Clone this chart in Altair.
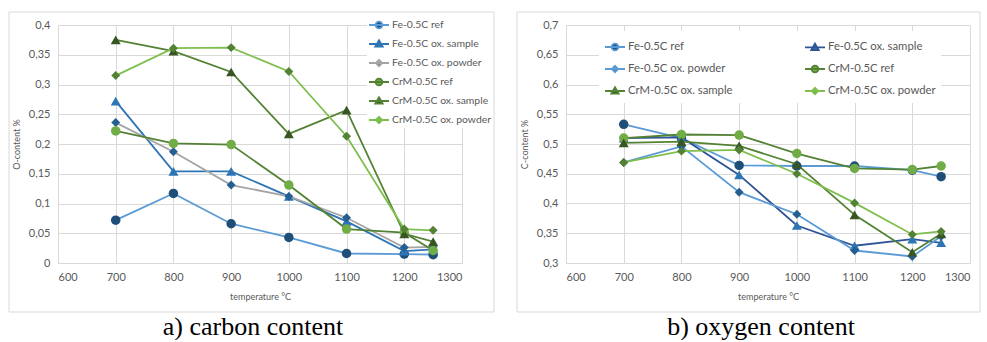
import altair as alt
import pandas as pd

temps = [700, 800, 900, 1000, 1100, 1200, 1250]

series_names = ["Fe-0.5C ref", "Fe-0.5C ox. sample", "Fe-0.5C ox. powder",
                "CrM-0.5C ref", "CrM-0.5C ox. sample", "CrM-0.5C ox. powder"]
marker_types = ["circle", "triangle-up", "diamond", "circle", "triangle-up", "diamond"]
marker_sizes = [90, 100, 80, 90, 100, 80]
marker_colors = ["#1f4e79", "#2e75b6", "#255e91", "#70ad47", "#375623", "#548235"]
line_colors_o = ["#5b9bd5", "#2e75b6", "#a5a5a5", "#548235", "#548235", "#7fbf4d"]
line_colors_c = ["#5b9bd5", "#2f5597", "#5b9bd5", "#548235", "#548235", "#7fbf4d"]

# a) O-content %
fe_ref_o = [0.072, 0.117, 0.066, 0.043, 0.016, 0.015, 0.014]
fe_sample_o = [0.272, 0.154, 0.154, 0.112, 0.070, 0.020, 0.023]
fe_powder_o = [0.236, 0.187, 0.131, 0.112, 0.076, 0.026, 0.027]
crm_ref_o = [0.222, 0.201, 0.199, 0.131, 0.057, 0.051, 0.021]
crm_sample_o = [0.375, 0.356, 0.321, 0.217, 0.257, 0.049, 0.036]
crm_powder_o = [0.315, 0.361, 0.362, 0.322, 0.213, 0.057, 0.055]

# b) C-content %
fe_ref_c = [0.533, 0.510, 0.464, 0.463, 0.463, 0.456, 0.445]
fe_sample_c = [0.510, 0.511, 0.448, 0.363, 0.329, 0.340, 0.334]
fe_powder_c = [0.469, 0.496, 0.419, 0.382, 0.321, 0.311, 0.345]
crm_ref_c = [0.510, 0.516, 0.515, 0.484, 0.459, 0.457, 0.463]
crm_sample_c = [0.502, 0.504, 0.497, 0.466, 0.381, 0.318, 0.349]
crm_powder_c = [0.469, 0.488, 0.490, 0.450, 0.401, 0.348, 0.353]

x_ticks = [600, 700, 800, 900, 1000, 1100, 1200, 1300]
y_ticks_o = [0, 0.05, 0.1, 0.15, 0.2, 0.25, 0.3, 0.35, 0.4]
y_ticks_c = [0.3, 0.35, 0.4, 0.45, 0.5, 0.55, 0.6, 0.65, 0.7]

legend_paths = {
    "circle": "M-1,0H1M-0.34,0A0.34,0.34,0,1,0,0.34,0A0.34,0.34,0,1,0,-0.34,0Z",
    "triangle-up": "M-1,0H1M0,-0.38L0.37,0.26L-0.37,0.26Z",
    "diamond": "M-1,0H1M0,-0.32L0.32,0L0,0.32L-0.32,0Z",
}

GRID = "#d9d9d9"
TXT = "#595959"
FONT = "Lato"


def long_df(cols):
    rows = []
    for name, vals in zip(series_names, cols):
        for t, v in zip(temps, vals):
            rows.append({"series": name, "temp": t, "value": v})
    return pd.DataFrame(rows)


def panel(df, line_colors, ydomain, yticks, ytitle, legend_kw, frame_right, caption, cap_dx):
    x = alt.X("temp:Q", scale=alt.Scale(domain=[600, 1300], nice=False, zero=False),
              axis=alt.Axis(values=x_ticks, title="temperature °C", format="d"))
    y = alt.Y("value:Q", scale=alt.Scale(domain=ydomain, nice=False, zero=False),
              axis=alt.Axis(values=yticks, title=ytitle, titlePadding=7,
                            labelExpr="replace(format(datum.value, '.2~f'), '.', ',')",
                            domain=False))
    stroke_scale = alt.Scale(domain=series_names, range=line_colors)
    fill_scale = alt.Scale(domain=series_names, range=marker_colors)

    frame = alt.Chart(alt.Data(values=[{"f": 1}])).mark_rect(
        fillOpacity=0, stroke=GRID, strokeWidth=1
    ).encode(x=alt.value(-49), x2=alt.value(frame_right), y=alt.value(-13), y2=alt.value(287))

    base = alt.Chart(df)
    leg = alt.Legend(**legend_kw)
    legend_layer = base.transform_filter("false").mark_point(
        filled=True, opacity=1, strokeWidth=1.8
    ).encode(
        x=x, y=y,
        stroke=alt.Stroke("series:N", scale=stroke_scale, legend=leg),
        fill=alt.Fill("series:N", scale=fill_scale, legend=leg),
        shape=alt.Shape("series:N", scale=alt.Scale(domain=series_names,
                                                      range=[legend_paths[m] for m in marker_types]),
                        legend=leg),
    )

    layers = [frame, legend_layer]
    for name, shp, sz in zip(series_names, marker_types, marker_sizes):
        sub = base.transform_filter(alt.datum.series == name)
        layers.append(sub.mark_line(strokeWidth=1.8).encode(
            x=x, y=y, color=alt.Color("series:N", scale=stroke_scale, legend=None)))
        layers.append(sub.mark_point(shape=shp, filled=True, size=sz, opacity=1, strokeWidth=0).encode(
            x=x, y=y, fill=alt.Fill("series:N", scale=fill_scale)))

    return alt.layer(*layers).properties(
        width=404, height=238,
        title=alt.Title(caption, orient="bottom", anchor="middle", frame="group",
                        font="Liberation Serif", fontSize=26, fontWeight="normal",
                        color="black", offset=1, dx=cap_dx),
    )


common_leg = dict(orient="none", title=None, fillColor="white", symbolSize=400,
                  symbolStrokeWidth=1.8, labelFont=FONT, labelColor=TXT, labelOffset=2)

left = panel(long_df([fe_ref_o, fe_sample_o, fe_powder_o, crm_ref_o, crm_sample_o, crm_powder_o]),
             line_colors_o, [0, 0.4], y_ticks_o, "O-content %",
             dict(common_leg, legendX=309, legendY=-12, padding=1, rowPadding=1,
                  labelFontSize=10.4, direction="vertical"),
             436, "a) carbon content", -7)

right = panel(long_df([fe_ref_c, fe_sample_c, fe_powder_c, crm_ref_c, crm_sample_c, crm_powder_c]),
              line_colors_c, [0.3, 0.7], y_ticks_c, "C-content %",
              dict(common_leg, legendX=33, legendY=6, padding=5, rowPadding=4,
                   labelFontSize=11.3, columns=2, columnPadding=68, direction="horizontal"),
              414, "b) oxygen content", -7)

chart = alt.hconcat(left, right, spacing=21).resolve_scale(
    color="independent", stroke="independent", fill="independent", shape="independent"
).properties(
    padding={"left": 8, "top": 11, "right": 0, "bottom": 0}
).configure_view(stroke=None).configure_axis(
    gridColor=GRID, gridWidth=1, domainColor=GRID, ticks=False,
    labelColor=TXT, labelFont=FONT, labelFontSize=11, labelPadding=8,
    titleColor=TXT, titleFont=FONT, titleFontSize=9, titleFontWeight="normal",
    titlePadding=10,
)

chart.save("out.html", embed_options={"renderer": "svg", "actions": False})
